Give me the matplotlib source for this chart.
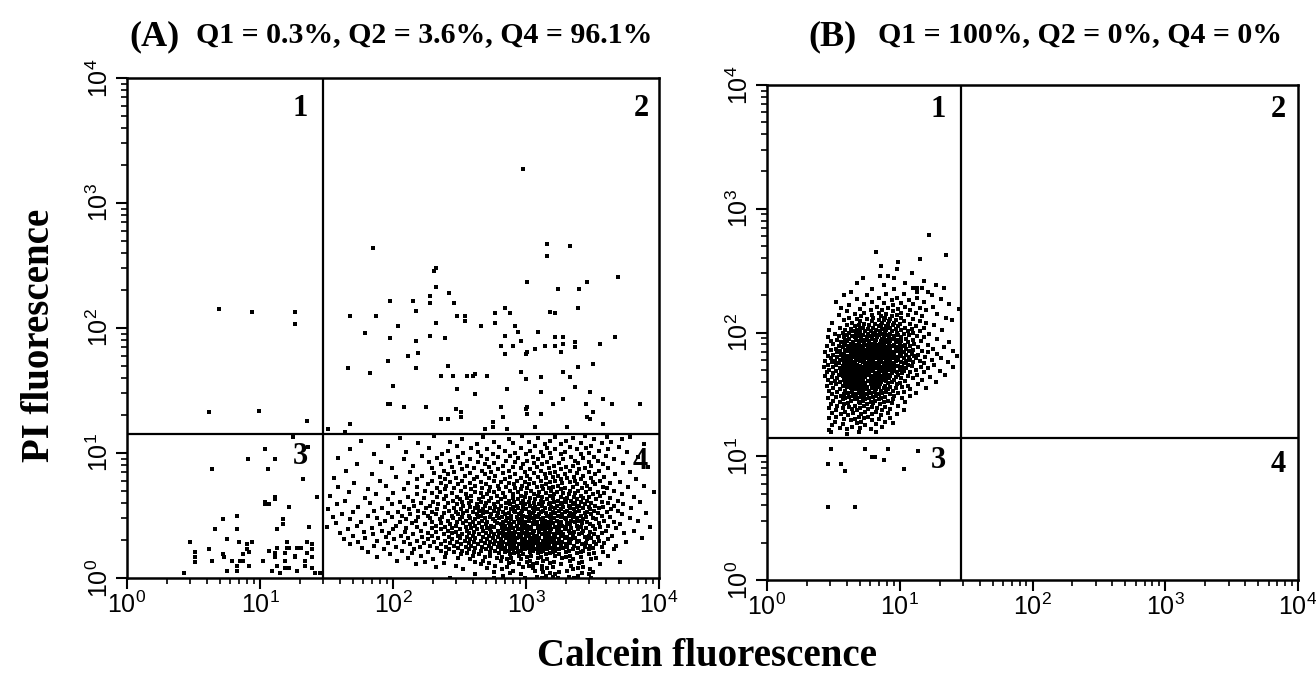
import matplotlib
matplotlib.use("Agg")
import matplotlib.pyplot as plt
from matplotlib.ticker import FixedLocator, LogLocator, NullFormatter

# All event coordinates are in hundredths of a decade: value = 10 ** (v / 100)
# (x = Calcein fluorescence, y = PI fluorescence).

TICK_VALUES = [1, 10, 100, 1000, 10000]
TICK_LABELS = [r"$10^{0}$", r"$10^{1}$", r"$10^{2}$", r"$10^{3}$", r"$10^{4}$"]

TITLE_A = "Q1 = 0.3%, Q2 = 3.6%, Q4 = 96.1%"
TITLE_B = "Q1 = 100%, Q2 = 0%, Q4 = 0%"
QUAD_LABELS = ["1", "2", "3", "4"]

GATE_A = (147, 115)   # quadrant gate (calcein, PI)
GATE_B = (146, 115)

# ---------------- Panel A ----------------
A_Q1 = [(69, 215), (94, 213), (126, 213), (126, 203), (62, 133), (99, 134), (135, 126)]

A_Q2 = [(298, 327), (185, 264), (316, 267), (333, 266), (316, 258), (369, 241), (301, 237),
        (346, 237), (232, 248), (231, 246), (232, 233), (324, 231), (340, 231), (242, 228),
        (228, 226), (228, 220), (246, 220), (215, 222), (198, 222), (217, 214), (168, 210),
        (187, 210), (248, 210), (254, 210), (254, 206), (284, 216), (288, 212), (277, 212),
        (318, 213), (322, 212), (339, 216), (204, 202), (232, 204), (266, 202), (277, 204),
        (292, 202), (294, 197), (309, 197), (179, 196), (198, 192), (228, 194), (239, 192),
        (284, 194), (322, 193), (328, 193), (367, 193), (217, 190), (281, 186), (290, 186),
        (296, 190), (314, 186), (322, 186), (328, 187), (337, 189), (337, 185), (356, 187),
        (326, 181), (307, 183), (301, 181), (300, 179), (284, 179), (219, 180), (211, 178),
        (196, 174), (241, 170), (339, 169), (350, 171), (166, 168), (217, 168), (183, 164),
        (236, 162), (245, 162), (256, 162), (260, 162), (262, 163), (271, 162), (296, 165),
        (300, 159), (311, 161), (328, 165), (333, 161), (200, 154), (248, 151), (286, 151),
        (262, 147), (311, 149), (337, 153), (348, 149), (196, 139), (198, 139), (208, 137),
        (225, 137), (281, 137), (300, 135), (301, 137), (320, 139), (328, 143), (345, 139),
        (358, 143), (365, 139), (386, 139), (247, 135), (251, 133), (251, 129), (283, 129),
        (301, 131), (311, 131), (350, 133), (236, 127), (241, 127), (346, 129), (348, 127),
        (168, 123), (151, 119), (164, 117), (275, 125), (275, 121), (269, 119), (286, 119),
        (307, 121), (331, 121), (358, 123)]

A_Q3 = [(125, 113), (104, 103), (136, 105), (91, 95), (111, 95), (64, 87), (106, 87), (132, 79),
        (143, 65), (104, 61), (104, 59), (107, 59), (111, 65), (111, 63), (122, 57), (83, 50),
        (72, 47), (117, 47), (117, 43), (66, 39), (83, 39), (113, 39), (137, 41), (47, 29),
        (75, 31), (84, 29), (90, 27), (94, 29), (120, 29), (135, 29), (139, 27), (62, 23),
        (90, 23), (92, 21), (107, 22), (113, 24), (120, 24), (122, 24), (128, 24), (131, 24),
        (139, 23), (51, 21), (51, 17), (51, 13), (72, 19), (73, 17), (87, 19), (111, 20),
        (111, 17), (119, 20), (119, 14), (126, 18), (126, 17), (135, 20), (139, 17), (64, 14),
        (79, 14), (85, 14), (87, 14), (102, 14), (134, 14), (83, 10), (92, 10), (113, 10),
        (119, 8), (122, 8), (134, 10), (139, 8), (43, 4), (75, 6), (83, 6), (109, 6), (115, 4),
        (128, 6), (141, 4), (145, 4)]

# Quadrant 4 events, one entry per PI channel: (PI, [calcein values ...])
A_Q4_ROWS = [
    (114, [231, 297, 344]), (113, [268, 322, 361, 378]), (112, [205, 309, 335]),
    (111, [252, 287, 351, 372]), (110, [176, 318, 330]), (109, [243, 276, 302, 364]),
    (108, [219, 290, 341, 357]), (107, [263, 314, 326, 389]), (106, [196, 248, 307, 349]),
    (105, [280, 333, 370]), (104, [227, 259, 296, 316, 345]), (103, [168, 271, 322, 338, 362]),
    (102, [241, 284, 303, 355]), (101, [210, 264, 311, 329, 376]), (100, [253, 292, 318, 347]),
    (99, [186, 237, 275, 300, 326, 341]), (98, [222, 266, 288, 313, 360]),
    (97, [249, 279, 305, 334, 351, 384]), (96, [159, 233, 294, 319, 343]),
    (95, [208, 258, 271, 309, 328, 366]), (94, [243, 285, 301, 337, 354]),
    (93, [191, 227, 264, 292, 316, 347]), (92, [250, 276, 306, 325, 339, 373]),
    (91, [173, 236, 269, 298, 312, 358]), (90, [215, 256, 283, 321, 335, 349]),
    (89, [244, 272, 290, 308, 330, 392]), (88, [199, 229, 261, 296, 317, 344, 362]),
    (87, [252, 279, 303, 326, 340]), (86, [165, 238, 267, 287, 311, 333, 355]),
    (85, [213, 246, 274, 299, 322, 347, 378]), (84, [231, 258, 283, 306, 318, 338]),
    (83, [184, 241, 269, 292, 314, 329, 352, 367]), (82, [222, 254, 277, 301, 324, 343]),
    (81, [202, 235, 263, 288, 309, 320, 336, 359]), (80, [156, 247, 272, 296, 315, 331, 349]),
    (79, [218, 239, 261, 284, 303, 326, 341, 383]),
    (78, [190, 229, 252, 276, 293, 311, 322, 337, 356]),
    (77, [243, 266, 281, 299, 318, 333, 350, 371]),
    (76, [171, 211, 236, 258, 287, 306, 327, 344, 363]),
    (75, [226, 249, 270, 291, 302, 315, 338, 352]),
    (74, [195, 240, 262, 279, 297, 312, 324, 346, 389]),
    (73, [159, 218, 254, 273, 285, 308, 320, 335, 358, 377]),
    (72, [233, 246, 267, 292, 301, 317, 329, 342, 361]),
    (71, [181, 208, 239, 259, 280, 296, 313, 326, 348]),
    (70, [224, 251, 272, 288, 304, 319, 333, 339, 366]),
    (69, [167, 235, 262, 276, 294, 310, 323, 345, 354, 396]),
    (68, [200, 229, 244, 266, 283, 300, 315, 328, 337, 359]),
    (67, [187, 218, 255, 271, 290, 306, 321, 332, 350, 372]),
    (66, [153, 240, 259, 278, 296, 309, 318, 341, 356]),
    (65, [211, 233, 248, 268, 284, 299, 312, 326, 336, 347, 381]),
    (64, [179, 223, 256, 274, 290, 303, 320, 331, 343, 363]),
    (63, [196, 238, 250, 265, 281, 294, 307, 316, 329, 338, 353]),
    (62, [164, 215, 245, 259, 272, 287, 298, 311, 324, 334, 346, 369]),
    (61, [205, 230, 252, 266, 279, 291, 302, 313, 321, 330, 341, 357, 386]),
    (60, [183, 221, 241, 257, 270, 285, 296, 306, 318, 327, 337, 349, 362]),
    (59, [158, 199, 234, 248, 263, 276, 288, 299, 310, 317, 326, 335, 344, 373]),
    (58, [216, 228, 253, 269, 281, 293, 303, 312, 323, 332, 340, 352, 366]),
    (57, [174, 208, 239, 258, 264, 277, 290, 298, 307, 319, 328, 338, 347, 358]),
    (56, [192, 225, 246, 262, 273, 285, 294, 305, 314, 322, 333, 343, 355, 379]),
    (55, [151, 212, 233, 251, 268, 280, 289, 300, 309, 318, 326, 336, 348, 364]),
    (54, [186, 219, 242, 256, 265, 276, 291, 297, 306, 313, 325, 331, 340, 351, 369]),
    (53, [170, 204, 229, 247, 260, 271, 283, 292, 302, 311, 320, 329, 337, 346, 361]),
    (52, [196, 223, 238, 253, 268, 279, 287, 296, 305, 315, 322, 333, 344, 354, 390]),
    (51, [162, 213, 232, 249, 263, 274, 284, 295, 303, 310, 319, 327, 336, 349, 372]),
    (50, [181, 207, 226, 244, 257, 266, 278, 289, 298, 307, 316, 324, 332, 341, 357]),
    (49, [155, 199, 219, 237, 252, 264, 273, 282, 293, 301, 309, 318, 326, 335, 345, 363]),
    (48, [188, 228, 245, 258, 269, 280, 286, 297, 304, 313, 321, 329, 338, 350, 378]),
    (47, [168, 210, 235, 250, 262, 275, 289, 294, 306, 311, 319, 330, 343, 353]),
    (46, [194, 217, 241, 255, 267, 277, 285, 296, 302, 314, 323, 334, 340, 359, 384]),
    (45, [176, 205, 229, 248, 260, 271, 283, 291, 299, 308, 317, 326, 337, 346, 366]),
    (44, [157, 214, 236, 253, 265, 278, 287, 295, 305, 312, 320, 331, 342, 355]),
    (43, [190, 224, 243, 258, 270, 281, 289, 298, 307, 315, 325, 333, 348, 371]),
    (42, [173, 202, 232, 247, 262, 274, 284, 293, 301, 310, 318, 327, 338, 350, 362]),
    (41, [150, 218, 239, 255, 267, 276, 288, 297, 304, 313, 322, 330, 341, 356, 393]),
    (40, [184, 210, 229, 244, 259, 271, 282, 290, 300, 309, 316, 325, 334, 345, 368]),
    (39, [166, 200, 236, 250, 263, 273, 285, 294, 303, 311, 319, 329, 339, 352]),
    (38, [192, 221, 241, 256, 268, 279, 287, 297, 306, 314, 323, 332, 343, 360, 381]),
    (37, [178, 209, 232, 247, 261, 274, 283, 292, 301, 310, 318, 326, 336, 348]),
    (36, [160, 197, 226, 244, 257, 270, 280, 289, 298, 305, 315, 324, 333, 342, 357, 374]),
    (35, [185, 215, 238, 252, 265, 276, 286, 295, 302, 312, 321, 328, 340, 351]),
    (34, [170, 206, 229, 249, 260, 272, 283, 291, 300, 308, 317, 326, 335, 347, 365]),
    (33, [195, 222, 242, 256, 268, 279, 288, 296, 306, 314, 322, 331, 344, 354]),
    (32, [179, 211, 234, 250, 262, 275, 285, 293, 303, 310, 319, 329, 337, 349, 387]),
    (31, [163, 201, 226, 244, 258, 271, 281, 290, 299, 307, 316, 325, 334, 346, 362]),
    (30, [188, 218, 239, 254, 266, 277, 287, 297, 304, 313, 321, 332, 340, 355]),
    (29, [174, 208, 231, 248, 261, 273, 283, 292, 301, 309, 318, 327, 338, 351, 375]),
    (28, [196, 223, 243, 257, 269, 280, 289, 298, 306, 315, 324, 333, 345, 359]),
    (27, [168, 213, 236, 251, 264, 276, 286, 295, 303, 312, 321, 330, 342, 353]),
    (26, [186, 228, 246, 259, 272, 282, 291, 300, 309, 317, 326, 336, 348, 368]),
    (25, [202, 220, 240, 255, 267, 279, 288, 297, 305, 314, 322, 331, 344, 357]),
    (24, [177, 233, 249, 262, 274, 284, 293, 302, 311, 319, 328, 339, 350]),
    (23, [193, 216, 242, 257, 270, 281, 290, 299, 308, 316, 325, 335, 347, 366]),
    (22, [207, 236, 252, 266, 277, 287, 296, 305, 313, 322, 332, 343]),
    (21, [181, 226, 246, 261, 273, 284, 294, 303, 311, 320, 330, 341, 358]),
    (20, [214, 240, 256, 280, 291, 309, 318, 338, 351]),
    (19, [198, 251, 265, 288, 298, 315, 325, 347]),
    (18, [221, 260, 273, 295, 304, 322, 333, 362]),
    (17, [188, 239, 269, 282, 301, 311, 330, 341]),
    (16, [211, 249, 278, 289, 309, 327, 353]),
    (15, [230, 258, 286, 296, 316, 335, 349]),
    (14, [203, 268, 281, 303, 313, 333]),
    (13, [224, 262, 290, 301, 321, 342, 371]),
    (12, [238, 272, 287, 308, 318, 340]),
    (11, [217, 266, 295, 305, 326, 356]),
    (10, [247, 277, 302, 312, 334]),
    (9, [232, 286, 298, 320, 343]),
    (8, [271, 305, 316, 339]),
    (7, [253, 282, 312, 335, 348]),
    (6, [290, 307, 331]),
    (5, [276, 313, 325, 350]),
    (4, [288, 318, 342]),
    (3, [262, 296, 322, 347]),
    (2, [283, 315, 339]),
    (1, [308, 320, 332]),
    (0, [243, 276, 299, 312, 324, 336, 349]),
]

# ---------------- Panel B ----------------
B_Q3 = [(48, 106), (46, 94), (56, 94), (59, 88), (74, 106), (79, 99), (81, 99), (88, 97),
        (91, 106), (103, 90), (114, 104), (46, 59), (66, 59)]

# Quadrant 1 events, one entry per PI channel: (PI, [calcein values ...])
B_Q1_ROWS = [
    (279, [122]), (265, [82]), (263, [135]), (259, [115]), (257, [99]), (254, [86]),
    (251, [98]), (248, [109]), (246, [85, 91]), (244, [96, 72]), (242, [118]),
    (240, [68, 104]), (238, [88, 127]), (236, [110, 113, 117, 133]), (235, [79, 96]),
    (233, [113, 63, 121]), (231, [90, 103]), (230, [124, 58, 75]), (228, [113, 84, 98]),
    (227, [68, 131]), (226, [94, 107]), (225, [52, 79, 118]), (224, [88, 101]),
    (223, [137, 73, 110]), (222, [62, 95]), (221, [83, 104, 125]), (220, [56, 115, 91]),
    (219, [70, 145, 99]), (218, [78, 108, 87, 120]), (217, [60, 95]),
    (216, [84, 73, 112, 101]), (215, [66, 90, 128]), (214, [79, 98, 106, 54]),
    (213, [71, 86, 117, 94]), (212, [62, 80, 89, 101, 135]), (211, [75, 93, 110, 68]),
    (210, [58, 84, 97, 139, 88]), (209, [70, 79, 103, 115, 92]),
    (208, [49, 64, 87, 96, 120]), (207, [73, 81, 91, 108, 100]),
    (206, [60, 77, 86, 95, 126, 69]), (205, [66, 84, 99, 112, 90]),
    (204, [55, 72, 80, 93, 104, 118]), (203, [63, 76, 87, 97, 109, 70]),
    (202, [47, 68, 82, 90, 101, 132, 59]), (201, [65, 74, 85, 94, 106, 115, 78]),
    (200, [57, 70, 81, 89, 98, 110, 62]), (199, [51, 67, 76, 86, 93, 103, 122]),
    (198, [60, 72, 80, 91, 99, 107, 84]), (197, [64, 69, 78, 88, 96, 113, 54]),
    (196, [46, 58, 75, 83, 92, 101, 118, 66]), (195, [62, 71, 79, 87, 95, 105, 128]),
    (194, [53, 67, 74, 82, 90, 98, 110, 59]), (193, [60, 70, 77, 86, 93, 101, 116, 48]),
    (192, [56, 65, 73, 81, 89, 97, 106, 137]), (191, [50, 63, 69, 78, 85, 92, 100, 111, 58]),
    (190, [59, 67, 75, 83, 88, 96, 104, 121]),
    (189, [45, 54, 64, 72, 80, 87, 94, 102, 108, 61]),
    (188, [57, 66, 70, 78, 85, 91, 99, 114, 133]),
    (187, [52, 62, 68, 76, 82, 89, 97, 105, 125]),
    (186, [48, 59, 65, 73, 80, 86, 93, 101, 110]),
    (185, [55, 61, 70, 77, 84, 90, 98, 107, 117, 140]),
    (184, [44, 53, 63, 67, 75, 81, 88, 95, 103, 121]),
    (183, [58, 64, 72, 79, 86, 92, 100, 109, 128]),
    (182, [50, 56, 66, 70, 77, 83, 89, 96, 105, 114]),
    (181, [46, 61, 68, 74, 81, 87, 94, 101, 111, 143]),
    (180, [53, 59, 65, 71, 78, 85, 91, 98, 107, 119]),
    (179, [48, 57, 63, 69, 76, 82, 88, 95, 103, 112, 131]),
    (178, [55, 60, 67, 73, 80, 86, 93, 99, 108, 124]),
    (177, [44, 51, 62, 70, 77, 84, 90, 97, 105, 115]),
    (176, [49, 58, 64, 72, 79, 85, 92, 101, 110, 136]),
    (175, [54, 61, 66, 74, 81, 88, 94, 103, 118]),
    (174, [46, 52, 59, 68, 76, 83, 89, 96, 106, 126]),
    (173, [57, 63, 70, 78, 84, 91, 99, 109]),
    (172, [43, 50, 60, 66, 73, 80, 87, 94, 102, 116, 140]),
    (171, [55, 62, 69, 75, 82, 89, 96, 105, 121]),
    (170, [47, 58, 64, 71, 78, 85, 92, 100, 112]),
    (169, [52, 60, 67, 74, 80, 87, 95, 103, 130]),
    (168, [45, 56, 63, 70, 77, 84, 90, 98, 108, 118]),
    (167, [50, 59, 66, 73, 81, 88, 94, 102]),
    (166, [54, 62, 69, 76, 83, 91, 99, 113, 134]),
    (165, [44, 57, 64, 72, 79, 86, 93, 106]),
    (164, [49, 60, 67, 74, 82, 89, 97, 123]),
    (163, [53, 63, 70, 78, 85, 92, 101, 110]),
    (162, [46, 58, 65, 72, 80, 87, 96, 117]),
    (161, [51, 61, 68, 76, 83, 90, 104]),
    (160, [55, 64, 71, 79, 86, 94, 127]),
    (159, [48, 59, 67, 74, 82, 91, 100]),
    (158, [52, 62, 70, 78, 85, 98, 114]),
    (157, [45, 57, 65, 73, 81, 89, 106]),
    (156, [60, 68, 75, 84, 93, 102]),
    (155, [50, 63, 71, 79, 88, 97, 120]),
    (154, [55, 66, 74, 82, 91, 108]),
    (153, [47, 59, 69, 77, 86, 95]),
    (152, [53, 64, 72, 81, 90, 103]),
    (151, [61, 70, 78, 87, 99, 112]),
    (150, [49, 58, 67, 75, 84, 93]),
    (149, [56, 65, 73, 82, 96, 108]),
    (148, [52, 62, 71, 80, 89]),
    (147, [46, 59, 68, 77, 86, 102]),
    (146, [57, 66, 74, 84, 95]),
    (145, [50, 63, 72, 81, 91]),
    (144, [55, 69, 78, 88, 104]),
    (143, [61, 70, 80, 94]),
    (142, [48, 58, 75, 85]),
    (141, [53, 66, 73, 99]),
    (140, [62, 79, 89]),
    (139, [47, 57, 70, 83]),
    (138, [64, 76, 93]),
    (137, [52, 68, 87, 103]),
    (136, [59, 74, 82]),
    (135, [49, 65, 91]),
    (134, [56, 71, 79, 98]),
    (133, [61, 86]),
    (132, [52, 69, 76]),
    (131, [47, 73, 93]),
    (130, [58, 66, 84]),
    (129, [63, 79]),
    (128, [51, 71, 89]),
    (127, [68, 95]),
    (126, [57, 82]),
    (125, [49, 74]),
    (124, [64, 87]),
    (123, [55, 70]),
    (122, [60, 78]),
    (121, [47]),
    (120, [48, 69, 82]),
    (118, [60]),
]

# ---------------------------------------------------------------------------
SANS = ["Liberation Sans Narrow", "Liberation Sans", "DejaVu Sans"]
SERIF = ["Liberation Serif", "DejaVu Serif"]
plt.rcParams["mathtext.default"] = "regular"

W, H = 1316, 690


def to_value(v):
    return 10 ** (v / 100.0)


def from_pairs(pairs):
    return [to_value(p[0]) for p in pairs], [to_value(p[1]) for p in pairs]


def from_rows(rows):
    xs, ys = [], []
    for y, xl in rows:
        for x in xl:
            xs.append(to_value(x))
            ys.append(to_value(y))
    return xs, ys


fig = plt.figure(figsize=(W / 100, H / 100), dpi=100)
fig.patch.set_facecolor("white")


def px_axes(x0, x1, ytop, ybot):
    return fig.add_axes([x0 / W, 1 - ybot / H, (x1 - x0) / W, (ybot - ytop) / H])


axA = px_axes(127, 659, 78, 578)
axB = px_axes(767, 1298, 85, 580)


def style(ax, gate):
    ax.set_xscale("log")
    ax.set_yscale("log")
    ax.set_xlim(1, 1e4)
    ax.set_ylim(1, 1e4)
    for s in ax.spines.values():
        s.set_linewidth(1.8)
    ax.axvline(to_value(gate[0]), color="black", lw=1.6, zorder=3)
    ax.axhline(to_value(gate[1]), color="black", lw=1.6, zorder=3)
    for axis in (ax.xaxis, ax.yaxis):
        axis.set_major_locator(FixedLocator(TICK_VALUES))
        axis.set_minor_locator(LogLocator(base=10, subs=range(2, 10), numticks=20))
        axis.set_minor_formatter(NullFormatter())
    ax.set_xticklabels(TICK_LABELS, fontfamily=SANS, fontsize=18)
    ax.set_yticklabels(TICK_LABELS, fontfamily=SANS, fontsize=18, rotation=90, va="center")
    ax.tick_params(which="major", direction="out", length=8, width=1.5, pad=2)
    ax.tick_params(which="minor", direction="out", length=4.5, width=1.2)
    ax.tick_params(axis="y", which="major", pad=2)


def dots(ax, xs, ys):
    ax.scatter(xs, ys, s=5.5, marker="s", c="black", linewidths=0, zorder=2, clip_on=True)


style(axA, GATE_A)
style(axB, GATE_B)

for pts in (A_Q1, A_Q2, A_Q3):
    dots(axA, *from_pairs(pts))
dots(axA, *from_rows(A_Q4_ROWS))

dots(axB, *from_pairs(B_Q3))
dots(axB, *from_rows(B_Q1_ROWS))

quad_pos_A = [(0.326, 0.938), (0.9675, 0.938), (0.325, 0.2435), (0.965, 0.2335)]
quad_pos_B = [(0.322, 0.9495), (0.962, 0.9495), (0.322, 0.2424), (0.962, 0.2343)]
for ax, poss in ((axA, quad_pos_A), (axB, quad_pos_B)):
    for lab, (fx, fy) in zip(QUAD_LABELS, poss):
        ax.text(fx, fy, lab, transform=ax.transAxes, ha="center", va="center",
                fontfamily=SERIF, fontweight="bold", fontsize=22, zorder=5)


def ftext(xp, yp, s, **kw):
    fig.text(xp / W, 1 - yp / H, s, **kw)


ftext(129, 45, "(A)", ha="left", va="baseline", fontfamily=SERIF, fontweight="bold", fontsize=26)
ftext(196, 42, TITLE_A, ha="left", va="baseline", fontfamily=SERIF, fontweight="bold", fontsize=21.5)
ftext(808, 45, "(B)", ha="left", va="baseline", fontfamily=SERIF, fontweight="bold", fontsize=26)
ftext(878, 42, TITLE_B, ha="left", va="baseline", fontfamily=SERIF, fontweight="bold", fontsize=21.5)

ftext(40, 335, "PI fluorescence", rotation=90, ha="center", va="center",
      fontfamily=SERIF, fontweight="bold", fontsize=28)
ftext(707, 657, "Calcein fluorescence", ha="center", va="center",
      fontfamily=SERIF, fontweight="bold", fontsize=28)

fig.savefig("out.png", dpi=100, facecolor="white")
